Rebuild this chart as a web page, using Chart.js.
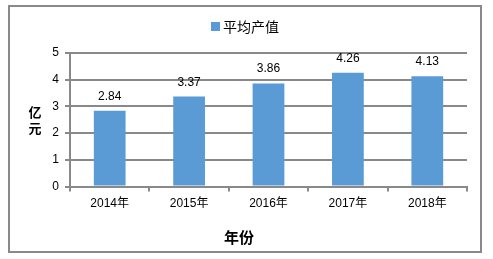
<!DOCTYPE html>
<html>
<head>
<meta charset="utf-8">
<script src="https://cdn.jsdelivr.net/npm/chart.js@4"></script>
<style>
  html, body { margin: 0; padding: 0; background: #fff; }
  #wrap { width: 493px; height: 259px; }
</style>
</head>
<body>
<div id="wrap"><canvas id="valueChart" width="493" height="259"></canvas></div>
<script>
const years = ['2014年', '2015年', '2016年', '2017年', '2018年'];
const avgValue = [2.84, 3.37, 3.86, 4.26, 4.13];
const seriesName = '平均产值';
const xTitle = '年份';
const yTitle = ['亿', '元'];

const baseFont = '"Liberation Sans", Arial, "Noto Sans CJK SC", sans-serif';
const cjkFont = '"Noto Sans CJK SC", "Liberation Sans", sans-serif';

// frame, legend, titles and value labels
const decorPlugin = {
    id: 'decor',
    beforeDraw(chart) {
        const c = chart.ctx;
        c.save();
        c.fillStyle = '#fff';
        c.fillRect(0, 0, chart.width, chart.height);
        c.strokeStyle = '#898989';
        c.lineWidth = 2;
        c.strokeRect(9, 6, 472, 246);
        c.restore();
    },
    afterDraw(chart) {
        const c = chart.ctx;
        const area = chart.chartArea;
        c.save();
        // legend
        const ds = chart.data.datasets[0];
        c.font = '14px ' + cjkFont;
        c.textBaseline = 'middle';
        c.fillStyle = ds.backgroundColor;
        c.fillRect(211, 22, 9, 9);
        c.fillStyle = '#000';
        c.textAlign = 'left';
        c.fillText(ds.label, 223, 27);

        // value labels
        const meta = chart.getDatasetMeta(0);
        c.font = '12px ' + baseFont;
        c.textAlign = 'center';
        c.textBaseline = 'alphabetic';
        meta.data.forEach((bar, i) => {
            c.fillText(avgValue[i].toFixed(2), bar.x, bar.y - 11);
        });

        // y title, stacked characters
        c.font = 'bold 13px ' + cjkFont;
        c.textBaseline = 'middle';
        yTitle.forEach((ch, i) => c.fillText(ch, 35, 112 + i * 16));

        // x title
        c.font = 'bold 15px ' + cjkFont;
        c.fillText(xTitle, 239, 237);
        c.restore();
    }
};

new Chart(document.getElementById('valueChart').getContext('2d'), {
    type: 'bar',
    data: {
        labels: years,
        datasets: [{
            label: seriesName,
            data: avgValue,
            backgroundColor: '#5B9BD5',
            barPercentage: 0.4,
            categoryPercentage: 1.0
        }]
    },
    options: {
        responsive: false,
        animation: false,
        layout: { padding: { top: 53, left: 50, right: 26, bottom: 40 } },
        plugins: { legend: { display: false }, tooltip: { enabled: false } },
        scales: {
            x: {
                offset: true,
                afterFit: (s) => { s.height = 32.5; },
                grid: { offset: true, drawOnChartArea: false, drawTicks: true, tickLength: 5, color: '#898989', lineWidth: 2 },
                border: { color: '#898989', width: 2 },
                ticks: { color: '#000', font: { size: 12, family: baseFont }, padding: 5, maxRotation: 0 }
            },
            y: {
                min: 0, max: 5,
                afterFit: (s) => { s.width = 20; },
                grid: { color: '#898989', lineWidth: 2, tickLength: 5 },
                border: { color: '#898989', width: 2 },
                ticks: { stepSize: 1, color: '#000', font: { size: 12, family: baseFont }, padding: 6 }
            }
        }
    },
    plugins: [decorPlugin]
});
</script>
</body>
</html>
